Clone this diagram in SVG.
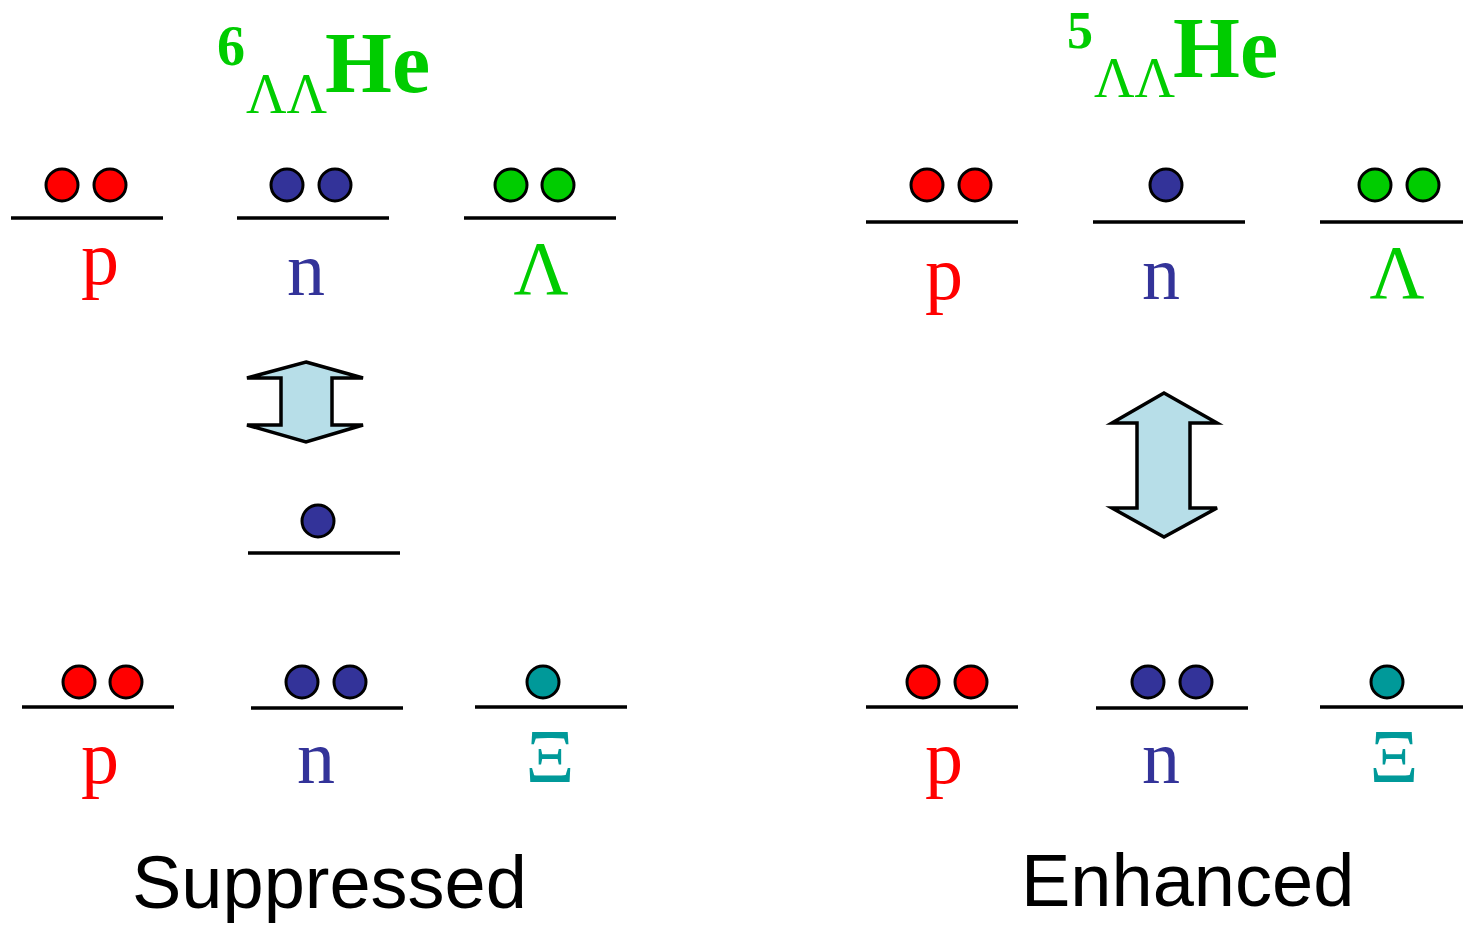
<svg xmlns="http://www.w3.org/2000/svg" width="1463" height="925" viewBox="0 0 1463 925">
<style>
.lvl{stroke:#000;stroke-width:3.5;fill:none}
.dot{stroke:#000;stroke-width:3}
.p{fill:#FF0000}.n{fill:#333399}.l{fill:#00CC00}.x{fill:#009999}
.lab{font-family:"Liberation Serif","Times New Roman",serif;font-size:76px;text-anchor:middle}
.tb{font-family:"Liberation Serif","Times New Roman",serif;font-weight:bold;fill:#00CC00}
.tr{font-family:"Liberation Serif","Times New Roman",serif;fill:#00CC00}
.cap{font-family:"Liberation Sans",Arial,sans-serif;font-size:74px;fill:#000}
.arr{fill:#B7DEE8;stroke:#000;stroke-width:3.5;stroke-linejoin:miter}
</style>
<rect width="1463" height="925" fill="#fff"/>
<g id="title-6LLHe">
<text class="tb" x="217" y="65" font-size="56">6</text>
<text class="tr" x="246" y="113" font-size="56">ΛΛ</text>
<text class="tb" x="325" y="92" font-size="86">He</text>
</g>
<g id="title-5LLHe">
<text class="tb" x="1067" y="48" font-size="52">5</text>
<text class="tr" x="1094" y="97" font-size="56">ΛΛ</text>
<text class="tb" x="1173" y="77" font-size="86">He</text>
</g>
<g id="L-top-p">
<line class="lvl" x1="11" y1="218" x2="163" y2="218"/>
<circle class="dot p" cx="62" cy="185" r="16"/><circle class="dot p" cx="110" cy="185" r="16"/>
<text class="lab p" x="100" y="284">p</text>
</g>
<g id="L-top-n">
<line class="lvl" x1="237" y1="218" x2="389" y2="218"/>
<circle class="dot n" cx="287" cy="185" r="16"/><circle class="dot n" cx="335" cy="185" r="16"/>
<text class="lab n" x="306" y="295">n</text>
</g>
<g id="L-top-L">
<line class="lvl" x1="464" y1="218" x2="616" y2="218"/>
<circle class="dot l" cx="511" cy="185" r="16"/><circle class="dot l" cx="558" cy="185" r="16"/>
<text class="lab l" x="541" y="294">Λ</text>
</g>
<g id="L-mid-n">
<line class="lvl" x1="248" y1="553" x2="400" y2="553"/>
<circle class="dot n" cx="318" cy="521" r="16"/>
</g>
<g id="L-bot-p">
<line class="lvl" x1="22" y1="707" x2="174" y2="707"/>
<circle class="dot p" cx="79" cy="682" r="16"/><circle class="dot p" cx="126" cy="682" r="16"/>
<text class="lab p" x="100" y="783">p</text>
</g>
<g id="L-bot-n">
<line class="lvl" x1="251" y1="708" x2="403" y2="708"/>
<circle class="dot n" cx="302" cy="682" r="16"/><circle class="dot n" cx="350" cy="682" r="16"/>
<text class="lab n" x="316" y="783">n</text>
</g>
<g id="L-bot-Xi">
<line class="lvl" x1="475" y1="707" x2="627" y2="707"/>
<circle class="dot x" cx="543" cy="682" r="16"/>
<text class="lab x" x="550" y="782">Ξ</text>
</g>
<g id="R-top-p">
<line class="lvl" x1="866" y1="222" x2="1018" y2="222"/>
<circle class="dot p" cx="927" cy="185" r="16"/><circle class="dot p" cx="975" cy="185" r="16"/>
<text class="lab p" x="944" y="299">p</text>
</g>
<g id="R-top-n">
<line class="lvl" x1="1093" y1="222" x2="1245" y2="222"/>
<circle class="dot n" cx="1166" cy="185" r="16"/>
<text class="lab n" x="1161" y="299">n</text>
</g>
<g id="R-top-L">
<line class="lvl" x1="1320" y1="222" x2="1463" y2="222"/>
<circle class="dot l" cx="1375" cy="185" r="16"/><circle class="dot l" cx="1423" cy="185" r="16"/>
<text class="lab l" x="1397" y="298">Λ</text>
</g>
<g id="R-bot-p">
<line class="lvl" x1="866" y1="707" x2="1018" y2="707"/>
<circle class="dot p" cx="923" cy="682" r="16"/><circle class="dot p" cx="971" cy="682" r="16"/>
<text class="lab p" x="944" y="783">p</text>
</g>
<g id="R-bot-n">
<line class="lvl" x1="1096" y1="708" x2="1248" y2="708"/>
<circle class="dot n" cx="1148" cy="682" r="16"/><circle class="dot n" cx="1196" cy="682" r="16"/>
<text class="lab n" x="1161" y="783">n</text>
</g>
<g id="R-bot-Xi">
<line class="lvl" x1="1320" y1="707" x2="1463" y2="707"/>
<circle class="dot x" cx="1387" cy="682" r="16"/>
<text class="lab x" x="1394" y="782">Ξ</text>
</g>
<g id="connectors">
<polygon class="arr" points="306,362 363,378 332,378 332,425 363,425 306,442 247,425 281,425 281,378 247,378"/>
<polygon class="arr" points="1164,393 1217,423 1190,423 1190,508 1217,508 1164,537 1112,508 1137,508 1137,423 1112,423"/>
</g>
<g id="caption-suppressed"><text class="cap" x="132" y="908">Suppressed</text></g>
<g id="caption-enhanced"><text class="cap" x="1021" y="906">Enhanced</text></g>
</svg>
